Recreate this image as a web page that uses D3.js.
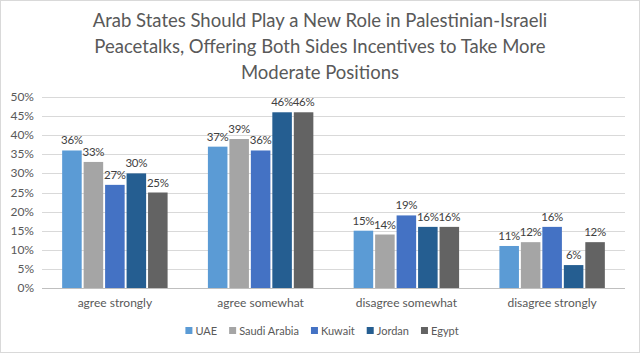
<!DOCTYPE html>
<html>
<head>
<meta charset="utf-8">
<script src="https://cdn.jsdelivr.net/npm/d3@7"></script>
<style>
  body { margin: 0; background: #fff; }
  text { font-family: Lato, "Open Sans", sans-serif; }
</style>
</head>
<body>
<div id="chart"></div>
<script>
var categories = ["agree strongly", "agree somewhat", "disagree somewhat", "disagree strongly"]
var countries = ["UAE", "Saudi Arabia", "Kuwait", "Jordan", "Egypt"]
var uae = [36, 37, 15, 11]
var saudi = [33, 39, 14, 12]
var kuwait = [27, 36, 19, 16]
var jordan = [30, 46, 16, 6]
var egypt = [25, 46, 16, 12]
var colors = ["#5B9BD5", "#A5A5A5", "#4472C4", "#255E91", "#636363"]
var yTicks = [0, 5, 10, 15, 20, 25, 30, 35, 40, 45, 50]
var titleLines = ["Arab States Should Play a New Role in Palestinian-Israeli",
  "Peacetalks, Offering Both Sides Incentives to Take More",
  "Moderate Positions"]

var series = [uae, saudi, kuwait, jordan, egypt]

var width = 640, height = 353
var margin = { top: 97, right: 15, bottom: 65, left: 42 }

var svg = d3.select("#chart")
    .append("svg")
    .attr("width", width)
    .attr("height", height)

// chart border
svg.append("rect")
    .attr("x", 0.5).attr("y", 0.5)
    .attr("width", width - 1).attr("height", height - 1)
    .attr("fill", "#fff")
    .attr("stroke", "#D9D9D9")

svg.selectAll(".title")
    .data(titleLines)
    .enter()
    .append("text")
    .attr("x", width / 2)
    .attr("y", (d, i) => 27 + i * 26)
    .attr("text-anchor", "middle")
    .style("font-size", "18.5px")
    .style("fill", "#595959")
    .text(d => d)

var y = d3.scaleLinear()
    .domain([0, 50])
    .range([height - margin.bottom, margin.top])

var x0 = d3.scaleBand()
    .domain(categories)
    .range([margin.left, width - margin.right])
    .paddingInner(0.25)
    .paddingOuter(0.125)

var x1 = d3.scaleBand()
    .domain(countries)
    .range([0, x0.bandwidth()])
    .padding(0.09)

// gridlines
svg.selectAll(".grid")
    .data(yTicks)
    .enter()
    .append("line")
    .attr("x1", margin.left)
    .attr("x2", width - margin.right)
    .attr("y1", d => Math.round(y(d)) + 0.5)
    .attr("y2", d => Math.round(y(d)) + 0.5)
    .attr("stroke", d => d === 0 ? "#BFBFBF" : "#D9D9D9")
    .attr("stroke-width", 1)

// y axis labels
svg.selectAll(".ylab")
    .data(yTicks)
    .enter()
    .append("text")
    .attr("x", margin.left - 8)
    .attr("y", d => y(d) + 4)
    .attr("text-anchor", "end")
    .style("font-size", "12px")
    .style("fill", "#595959")
    .text(d => d + "%")

// bars
var groups = svg.selectAll(".group")
    .data(categories)
    .enter()
    .append("g")
    .attr("transform", d => "translate(" + x0(d) + ",0)")

groups.selectAll("rect")
    .data((c, ci) => countries.map((n, si) => ({ name: n, value: series[si][ci], si: si })))
    .enter()
    .append("rect")
    .attr("x", d => x1(d.name))
    .attr("y", d => y(d.value))
    .attr("width", x1.bandwidth())
    .attr("height", d => y(0) - y(d.value))
    .attr("fill", d => colors[d.si])

groups.selectAll(".val")
    .data((c, ci) => countries.map((n, si) => ({ name: n, value: series[si][ci], si: si })))
    .enter()
    .append("text")
    .attr("x", d => x1(d.name) + x1.bandwidth() / 2)
    .attr("y", d => y(d.value) - 6)
    .attr("text-anchor", "middle")
    .style("font-size", "11.5px")
    .style("letter-spacing", "-0.3px")
    .style("fill", "#404040")
    .text(d => d.value + "%")

// x category labels
svg.selectAll(".xlab")
    .data(categories)
    .enter()
    .append("text")
    .attr("x", d => x0(d) + x0.bandwidth() / 2)
    .attr("y", height - margin.bottom + 19)
    .attr("text-anchor", "middle")
    .style("font-size", "12px")
    .style("fill", "#595959")
    .text(d => d)

// legend, laid out from measured text widths
var legend = svg.append("g")
var items = legend.selectAll(".legend")
    .data(countries)
    .enter()
    .append("g")

items.append("rect")
    .attr("y", -7)
    .attr("width", 7).attr("height", 7)
    .attr("fill", (d, i) => colors[i])

items.append("text")
    .attr("x", 10)
    .attr("y", 0.5)
    .style("font-size", "11px")
    .style("fill", "#595959")
    .text(d => d)

var pos = 0
items.each(function () {
    var w = this.querySelector("text").getComputedTextLength() + 10
    d3.select(this).attr("transform", "translate(" + pos + ",0)")
    pos += w + 12
})
pos -= 12
legend.attr("transform", "translate(" + (322 - pos / 2) + ",334)")
</script>
</body>
</html>
